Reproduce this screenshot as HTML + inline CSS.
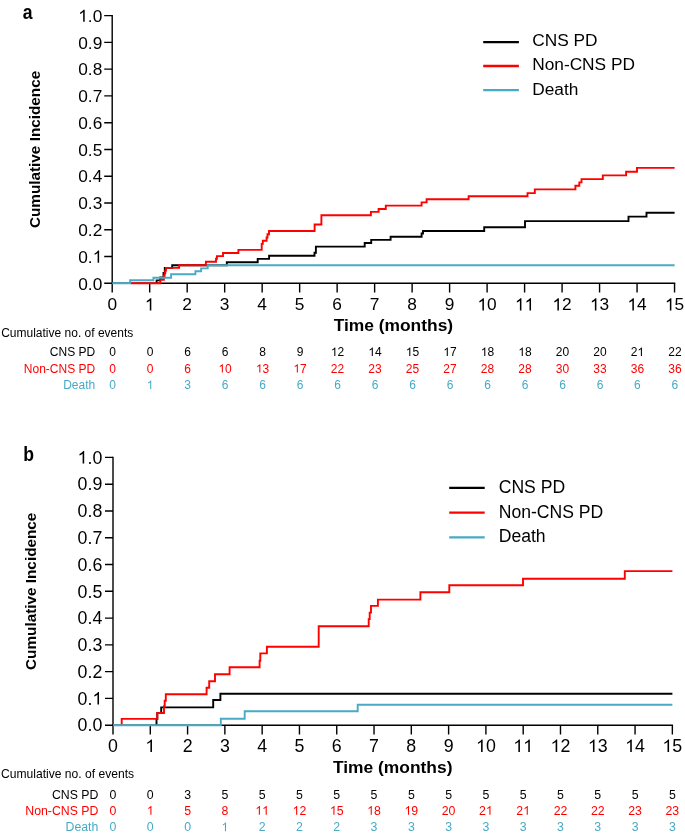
<!DOCTYPE html>
<html><head><meta charset="utf-8"><style>
html,body{margin:0;padding:0;background:#fff;}
svg{display:block;will-change:transform;}
text{font-family:"Liberation Sans", sans-serif;fill:#000;}
</style></head><body>
<svg width="685" height="836" viewBox="0 0 685 836">
<rect width="685" height="836" fill="#fff"/>
<path d="M112.2,15.6V283.3H674.55" fill="none" stroke="#000" stroke-width="1.4" stroke-linecap="square"/>
<path d="M104.2,283.3H112.2M104.2,256.53H112.2M104.2,229.76H112.2M104.2,202.99H112.2M104.2,176.22H112.2M104.2,149.45H112.2M104.2,122.68H112.2M104.2,95.91H112.2M104.2,69.14H112.2M104.2,42.37H112.2M104.2,15.6H112.2M112.2,283.3V292.5M149.69,283.3V292.5M187.18,283.3V292.5M224.67,283.3V292.5M262.16,283.3V292.5M299.65,283.3V292.5M337.14,283.3V292.5M374.63,283.3V292.5M412.12,283.3V292.5M449.61,283.3V292.5M487.1,283.3V292.5M524.59,283.3V292.5M562.08,283.3V292.5M599.57,283.3V292.5M637.06,283.3V292.5M674.55,283.3V292.5" fill="none" stroke="#000" stroke-width="1.4"/>
<text x="78.25" y="289.5" font-size="17.3">0.0</text>
<text x="78.25" y="262.73" font-size="17.3">0. </text>
<path d="M763,0H583V1147Q518,1085 412.5,1023Q307,961 223,930V1104Q374,1175 487,1276Q600,1377 647,1440H763Z" transform="translate(92.68,262.73) scale(0.008447,-0.008447)" fill="#000"/>
<text x="78.25" y="235.96" font-size="17.3">0.2</text>
<text x="78.25" y="209.19" font-size="17.3">0.3</text>
<text x="78.25" y="182.42" font-size="17.3">0.4</text>
<text x="78.25" y="155.65" font-size="17.3">0.5</text>
<text x="78.25" y="128.88" font-size="17.3">0.6</text>
<text x="78.25" y="102.11" font-size="17.3">0.7</text>
<text x="78.25" y="75.34" font-size="17.3">0.8</text>
<text x="78.25" y="48.57" font-size="17.3">0.9</text>
<text x="78.25" y="21.8" font-size="17.3"> .0</text>
<path d="M763,0H583V1147Q518,1085 412.5,1023Q307,961 223,930V1104Q374,1175 487,1276Q600,1377 647,1440H763Z" transform="translate(78.25,21.8) scale(0.008447,-0.008447)" fill="#000"/>
<text x="107.39" y="310.4" font-size="17.3">0</text>
<path d="M763,0H583V1147Q518,1085 412.5,1023Q307,961 223,930V1104Q374,1175 487,1276Q600,1377 647,1440H763Z" transform="translate(144.88,310.4) scale(0.008447,-0.008447)" fill="#000"/>
<text x="182.37" y="310.4" font-size="17.3">2</text>
<text x="219.86" y="310.4" font-size="17.3">3</text>
<text x="257.35" y="310.4" font-size="17.3">4</text>
<text x="294.84" y="310.4" font-size="17.3">5</text>
<text x="332.33" y="310.4" font-size="17.3">6</text>
<text x="369.82" y="310.4" font-size="17.3">7</text>
<text x="407.31" y="310.4" font-size="17.3">8</text>
<text x="444.8" y="310.4" font-size="17.3">9</text>
<text x="477.48" y="310.4" font-size="17.3"> 0</text>
<path d="M763,0H583V1147Q518,1085 412.5,1023Q307,961 223,930V1104Q374,1175 487,1276Q600,1377 647,1440H763Z" transform="translate(477.48,310.4) scale(0.008447,-0.008447)" fill="#000"/>
<path d="M763,0H583V1147Q518,1085 412.5,1023Q307,961 223,930V1104Q374,1175 487,1276Q600,1377 647,1440H763Z" transform="translate(514.97,310.4) scale(0.008447,-0.008447)" fill="#000"/>
<path d="M763,0H583V1147Q518,1085 412.5,1023Q307,961 223,930V1104Q374,1175 487,1276Q600,1377 647,1440H763Z" transform="translate(524.59,310.4) scale(0.008447,-0.008447)" fill="#000"/>
<text x="552.46" y="310.4" font-size="17.3"> 2</text>
<path d="M763,0H583V1147Q518,1085 412.5,1023Q307,961 223,930V1104Q374,1175 487,1276Q600,1377 647,1440H763Z" transform="translate(552.46,310.4) scale(0.008447,-0.008447)" fill="#000"/>
<text x="589.95" y="310.4" font-size="17.3"> 3</text>
<path d="M763,0H583V1147Q518,1085 412.5,1023Q307,961 223,930V1104Q374,1175 487,1276Q600,1377 647,1440H763Z" transform="translate(589.95,310.4) scale(0.008447,-0.008447)" fill="#000"/>
<text x="627.44" y="310.4" font-size="17.3"> 4</text>
<path d="M763,0H583V1147Q518,1085 412.5,1023Q307,961 223,930V1104Q374,1175 487,1276Q600,1377 647,1440H763Z" transform="translate(627.44,310.4) scale(0.008447,-0.008447)" fill="#000"/>
<text x="664.93" y="310.4" font-size="17.3"> 5</text>
<path d="M763,0H583V1147Q518,1085 412.5,1023Q307,961 223,930V1104Q374,1175 487,1276Q600,1377 647,1440H763Z" transform="translate(664.93,310.4) scale(0.008447,-0.008447)" fill="#000"/>
<text x="393.38" y="331" text-anchor="middle" font-size="17.4" font-weight="bold">Time (months)</text>
<text transform="translate(39.6,149.45) rotate(-90)" text-anchor="middle" font-size="15.3" font-weight="bold">Cumulative Incidence</text>
<text transform="translate(22.8,18.7) scale(0.84,1)" font-size="21" font-weight="bold">a</text>
<path d="M156.6,283.3V280.4H160.3V277.5H163.5V273H164.8V267.9H172.2V265.2H226.8V262.3H257.7V258.9H269.1V255.7H314.5V252.7H315.9V246.6H364.7V243H371.2V239.9H390.6V236.7H421.6V233.5H423V231H484.2V227.2H525V221.1H628.5V216.6H646.5V212.8H674.6" fill="none" stroke="#000000" stroke-width="1.9" stroke-linejoin="miter" stroke-linecap="butt"/>
<path d="M130.9,283.3H160.3V279.9H163.9V276H164.6V273.3H165.3V270.6H166V267.9H179.1V265.3H205.9V261.8H216V258.8H216.9V256.1H223V253H238.4V249.9H261.7V243.9H262.8V240.7H266.6V237.5H267.5V234.3H269V231H314.6V224.5H321.4V215.2H370.9V211.9H378.6V209H385.8V205.6H421.6V202.4H426.6V199.3H468.6V196.3H527.5V193.1H534.8V189.4H575.4V185.8H579.3V182.4H581.5V179.1H602.8V175.4H626.1V171.7H637V167.9H674.6" fill="none" stroke="#ff0000" stroke-width="1.9" stroke-linejoin="miter" stroke-linecap="butt"/>
<path d="M112.2,283.3H130.1V280.2H153.4V277.8H171.1V274.3H195.4V271.3H201.1V268.4H207.7V265.3H674.6" fill="none" stroke="#48aac5" stroke-width="1.9" stroke-linejoin="miter" stroke-linecap="butt"/>
<path d="M483.2,42.1H518.9" stroke="#000000" stroke-width="2.3"/>
<text x="532.2" y="46.4" font-size="17.3">CNS PD</text>
<path d="M483.2,66H518.9" stroke="#ff0000" stroke-width="2.3"/>
<text x="532.2" y="70.4" font-size="17.3">Non-CNS PD</text>
<path d="M483.2,90.1H518.9" stroke="#48aac5" stroke-width="2.3"/>
<text x="532.2" y="94.6" font-size="17.3">Death</text>
<text x="1.2" y="337.4" font-size="12">Cumulative no. of events</text>
<text x="95.2" y="355.9" font-size="12" style="fill:#000000" text-anchor="end">CNS PD</text>
<text x="109.26" y="355.9" font-size="12">0</text>
<text x="146.75" y="355.9" font-size="12">0</text>
<text x="184.24" y="355.9" font-size="12">6</text>
<text x="221.73" y="355.9" font-size="12">6</text>
<text x="259.22" y="355.9" font-size="12">8</text>
<text x="296.71" y="355.9" font-size="12">9</text>
<text x="330.87" y="355.9" font-size="12"> 2</text>
<path d="M763,0H583V1147Q518,1085 412.5,1023Q307,961 223,930V1104Q374,1175 487,1276Q600,1377 647,1440H763Z" transform="translate(330.87,355.9) scale(0.005859,-0.005859)" fill="#000000"/>
<text x="368.36" y="355.9" font-size="12"> 4</text>
<path d="M763,0H583V1147Q518,1085 412.5,1023Q307,961 223,930V1104Q374,1175 487,1276Q600,1377 647,1440H763Z" transform="translate(368.36,355.9) scale(0.005859,-0.005859)" fill="#000000"/>
<text x="405.85" y="355.9" font-size="12"> 5</text>
<path d="M763,0H583V1147Q518,1085 412.5,1023Q307,961 223,930V1104Q374,1175 487,1276Q600,1377 647,1440H763Z" transform="translate(405.85,355.9) scale(0.005859,-0.005859)" fill="#000000"/>
<text x="443.34" y="355.9" font-size="12"> 7</text>
<path d="M763,0H583V1147Q518,1085 412.5,1023Q307,961 223,930V1104Q374,1175 487,1276Q600,1377 647,1440H763Z" transform="translate(443.34,355.9) scale(0.005859,-0.005859)" fill="#000000"/>
<text x="480.83" y="355.9" font-size="12"> 8</text>
<path d="M763,0H583V1147Q518,1085 412.5,1023Q307,961 223,930V1104Q374,1175 487,1276Q600,1377 647,1440H763Z" transform="translate(480.83,355.9) scale(0.005859,-0.005859)" fill="#000000"/>
<text x="518.32" y="355.9" font-size="12"> 8</text>
<path d="M763,0H583V1147Q518,1085 412.5,1023Q307,961 223,930V1104Q374,1175 487,1276Q600,1377 647,1440H763Z" transform="translate(518.32,355.9) scale(0.005859,-0.005859)" fill="#000000"/>
<text x="555.81" y="355.9" font-size="12">20</text>
<text x="593.3" y="355.9" font-size="12">20</text>
<text x="630.79" y="355.9" font-size="12">2 </text>
<path d="M763,0H583V1147Q518,1085 412.5,1023Q307,961 223,930V1104Q374,1175 487,1276Q600,1377 647,1440H763Z" transform="translate(637.46,355.9) scale(0.005859,-0.005859)" fill="#000000"/>
<text x="668.28" y="355.9" font-size="12">22</text>
<text x="95.2" y="372.6" font-size="12" style="fill:#ff0000" text-anchor="end">Non-CNS PD</text>
<text x="109.26" y="372.6" font-size="12" style="fill:#ff0000">0</text>
<text x="146.75" y="372.6" font-size="12" style="fill:#ff0000">0</text>
<text x="184.24" y="372.6" font-size="12" style="fill:#ff0000">6</text>
<text x="218.4" y="372.6" font-size="12" style="fill:#ff0000"> 0</text>
<path d="M763,0H583V1147Q518,1085 412.5,1023Q307,961 223,930V1104Q374,1175 487,1276Q600,1377 647,1440H763Z" transform="translate(218.4,372.6) scale(0.005859,-0.005859)" fill="#ff0000"/>
<text x="255.89" y="372.6" font-size="12" style="fill:#ff0000"> 3</text>
<path d="M763,0H583V1147Q518,1085 412.5,1023Q307,961 223,930V1104Q374,1175 487,1276Q600,1377 647,1440H763Z" transform="translate(255.89,372.6) scale(0.005859,-0.005859)" fill="#ff0000"/>
<text x="293.38" y="372.6" font-size="12" style="fill:#ff0000"> 7</text>
<path d="M763,0H583V1147Q518,1085 412.5,1023Q307,961 223,930V1104Q374,1175 487,1276Q600,1377 647,1440H763Z" transform="translate(293.38,372.6) scale(0.005859,-0.005859)" fill="#ff0000"/>
<text x="330.87" y="372.6" font-size="12" style="fill:#ff0000">22</text>
<text x="368.36" y="372.6" font-size="12" style="fill:#ff0000">23</text>
<text x="405.85" y="372.6" font-size="12" style="fill:#ff0000">25</text>
<text x="443.34" y="372.6" font-size="12" style="fill:#ff0000">27</text>
<text x="480.83" y="372.6" font-size="12" style="fill:#ff0000">28</text>
<text x="518.32" y="372.6" font-size="12" style="fill:#ff0000">28</text>
<text x="555.81" y="372.6" font-size="12" style="fill:#ff0000">30</text>
<text x="593.3" y="372.6" font-size="12" style="fill:#ff0000">33</text>
<text x="630.79" y="372.6" font-size="12" style="fill:#ff0000">36</text>
<text x="668.28" y="372.6" font-size="12" style="fill:#ff0000">36</text>
<text x="95.2" y="388.9" font-size="12" style="fill:#48aac5" text-anchor="end">Death</text>
<text x="109.26" y="388.9" font-size="12" style="fill:#48aac5">0</text>
<path d="M763,0H583V1147Q518,1085 412.5,1023Q307,961 223,930V1104Q374,1175 487,1276Q600,1377 647,1440H763Z" transform="translate(146.75,388.9) scale(0.005859,-0.005859)" fill="#48aac5"/>
<text x="184.24" y="388.9" font-size="12" style="fill:#48aac5">3</text>
<text x="221.73" y="388.9" font-size="12" style="fill:#48aac5">6</text>
<text x="259.22" y="388.9" font-size="12" style="fill:#48aac5">6</text>
<text x="296.71" y="388.9" font-size="12" style="fill:#48aac5">6</text>
<text x="334.2" y="388.9" font-size="12" style="fill:#48aac5">6</text>
<text x="371.69" y="388.9" font-size="12" style="fill:#48aac5">6</text>
<text x="409.18" y="388.9" font-size="12" style="fill:#48aac5">6</text>
<text x="446.67" y="388.9" font-size="12" style="fill:#48aac5">6</text>
<text x="484.16" y="388.9" font-size="12" style="fill:#48aac5">6</text>
<text x="521.65" y="388.9" font-size="12" style="fill:#48aac5">6</text>
<text x="559.14" y="388.9" font-size="12" style="fill:#48aac5">6</text>
<text x="596.63" y="388.9" font-size="12" style="fill:#48aac5">6</text>
<text x="634.12" y="388.9" font-size="12" style="fill:#48aac5">6</text>
<text x="671.61" y="388.9" font-size="12" style="fill:#48aac5">6</text>
<path d="M113,457.4V725.2H672.35" fill="none" stroke="#000" stroke-width="1.4" stroke-linecap="square"/>
<path d="M105,725.2H113M105,698.42H113M105,671.64H113M105,644.86H113M105,618.08H113M105,591.3H113M105,564.52H113M105,537.74H113M105,510.96H113M105,484.18H113M105,457.4H113M113,725.2V734.4M150.29,725.2V734.4M187.58,725.2V734.4M224.87,725.2V734.4M262.16,725.2V734.4M299.45,725.2V734.4M336.74,725.2V734.4M374.03,725.2V734.4M411.32,725.2V734.4M448.61,725.2V734.4M485.9,725.2V734.4M523.19,725.2V734.4M560.48,725.2V734.4M597.77,725.2V734.4M635.06,725.2V734.4M672.35,725.2V734.4" fill="none" stroke="#000" stroke-width="1.4"/>
<text x="77.56" y="731.4" font-size="17.8">0.0</text>
<text x="77.56" y="704.62" font-size="17.8">0. </text>
<path d="M763,0H583V1147Q518,1085 412.5,1023Q307,961 223,930V1104Q374,1175 487,1276Q600,1377 647,1440H763Z" transform="translate(92.4,704.62) scale(0.008691,-0.008691)" fill="#000"/>
<text x="77.56" y="677.84" font-size="17.8">0.2</text>
<text x="77.56" y="651.06" font-size="17.8">0.3</text>
<text x="77.56" y="624.28" font-size="17.8">0.4</text>
<text x="77.56" y="597.5" font-size="17.8">0.5</text>
<text x="77.56" y="570.72" font-size="17.8">0.6</text>
<text x="77.56" y="543.94" font-size="17.8">0.7</text>
<text x="77.56" y="517.16" font-size="17.8">0.8</text>
<text x="77.56" y="490.38" font-size="17.8">0.9</text>
<text x="77.56" y="463.6" font-size="17.8"> .0</text>
<path d="M763,0H583V1147Q518,1085 412.5,1023Q307,961 223,930V1104Q374,1175 487,1276Q600,1377 647,1440H763Z" transform="translate(77.56,463.6) scale(0.008691,-0.008691)" fill="#000"/>
<text x="108.05" y="752" font-size="17.8">0</text>
<path d="M763,0H583V1147Q518,1085 412.5,1023Q307,961 223,930V1104Q374,1175 487,1276Q600,1377 647,1440H763Z" transform="translate(145.34,752) scale(0.008691,-0.008691)" fill="#000"/>
<text x="182.63" y="752" font-size="17.8">2</text>
<text x="219.92" y="752" font-size="17.8">3</text>
<text x="257.21" y="752" font-size="17.8">4</text>
<text x="294.5" y="752" font-size="17.8">5</text>
<text x="331.79" y="752" font-size="17.8">6</text>
<text x="369.08" y="752" font-size="17.8">7</text>
<text x="406.37" y="752" font-size="17.8">8</text>
<text x="443.66" y="752" font-size="17.8">9</text>
<text x="476" y="752" font-size="17.8"> 0</text>
<path d="M763,0H583V1147Q518,1085 412.5,1023Q307,961 223,930V1104Q374,1175 487,1276Q600,1377 647,1440H763Z" transform="translate(476,752) scale(0.008691,-0.008691)" fill="#000"/>
<path d="M763,0H583V1147Q518,1085 412.5,1023Q307,961 223,930V1104Q374,1175 487,1276Q600,1377 647,1440H763Z" transform="translate(513.29,752) scale(0.008691,-0.008691)" fill="#000"/>
<path d="M763,0H583V1147Q518,1085 412.5,1023Q307,961 223,930V1104Q374,1175 487,1276Q600,1377 647,1440H763Z" transform="translate(523.19,752) scale(0.008691,-0.008691)" fill="#000"/>
<text x="550.58" y="752" font-size="17.8"> 2</text>
<path d="M763,0H583V1147Q518,1085 412.5,1023Q307,961 223,930V1104Q374,1175 487,1276Q600,1377 647,1440H763Z" transform="translate(550.58,752) scale(0.008691,-0.008691)" fill="#000"/>
<text x="587.87" y="752" font-size="17.8"> 3</text>
<path d="M763,0H583V1147Q518,1085 412.5,1023Q307,961 223,930V1104Q374,1175 487,1276Q600,1377 647,1440H763Z" transform="translate(587.87,752) scale(0.008691,-0.008691)" fill="#000"/>
<text x="625.16" y="752" font-size="17.8"> 4</text>
<path d="M763,0H583V1147Q518,1085 412.5,1023Q307,961 223,930V1104Q374,1175 487,1276Q600,1377 647,1440H763Z" transform="translate(625.16,752) scale(0.008691,-0.008691)" fill="#000"/>
<text x="662.45" y="752" font-size="17.8"> 5</text>
<path d="M763,0H583V1147Q518,1085 412.5,1023Q307,961 223,930V1104Q374,1175 487,1276Q600,1377 647,1440H763Z" transform="translate(662.45,752) scale(0.008691,-0.008691)" fill="#000"/>
<text x="392.68" y="773.2" text-anchor="middle" font-size="17.4" font-weight="bold">Time (months)</text>
<text transform="translate(35.8,591.3) rotate(-90)" text-anchor="middle" font-size="15.3" font-weight="bold">Cumulative Incidence</text>
<text transform="translate(23.2,460.6) scale(0.84,1)" font-size="21" font-weight="bold">b</text>
<path d="M156.5,725.2V718.9H157.3V713H161.2V707.4H213.2V700H220.4V693.8H672.4" fill="none" stroke="#000000" stroke-width="1.9" stroke-linejoin="miter" stroke-linecap="butt"/>
<path d="M121.7,725.2V718.9H157.3V713H164V706.3H164.7V700.8H165.8V694.3H206.6V687.7H209.2V681.2H215V674.3H229.6V667.3H259.6V660.7H260.3V653.4H266.9V646.8H318.7V626.3H368.7V619.1H369.7V612.6H371V605.9H377.9V599.6H420.4V592.3H449.3V585.3H523V578.7H624.8V571.1H672.4" fill="none" stroke="#ff0000" stroke-width="1.9" stroke-linejoin="miter" stroke-linecap="butt"/>
<path d="M113,725.2H220.8V718.7H244.7V711.3H357.7V704.8H672.4" fill="none" stroke="#48aac5" stroke-width="1.9" stroke-linejoin="miter" stroke-linecap="butt"/>
<path d="M449.2,487.8H484.7" stroke="#000000" stroke-width="2.3"/>
<text x="498.7" y="493.2" font-size="17.6">CNS PD</text>
<path d="M449.2,512.7H484.7" stroke="#ff0000" stroke-width="2.3"/>
<text x="498.7" y="517.5" font-size="17.6">Non-CNS PD</text>
<path d="M449.2,537.3H484.7" stroke="#48aac5" stroke-width="2.3"/>
<text x="498.7" y="541.8" font-size="17.6">Death</text>
<text x="1" y="777.7" font-size="12.1">Cumulative no. of events</text>
<text x="98.4" y="798.8" font-size="12.3" style="fill:#000000" text-anchor="end">CNS PD</text>
<text x="109.58" y="798.8" font-size="12.3">0</text>
<text x="146.87" y="798.8" font-size="12.3">0</text>
<text x="184.16" y="798.8" font-size="12.3">3</text>
<text x="221.45" y="798.8" font-size="12.3">5</text>
<text x="258.74" y="798.8" font-size="12.3">5</text>
<text x="296.03" y="798.8" font-size="12.3">5</text>
<text x="333.32" y="798.8" font-size="12.3">5</text>
<text x="370.61" y="798.8" font-size="12.3">5</text>
<text x="407.9" y="798.8" font-size="12.3">5</text>
<text x="445.19" y="798.8" font-size="12.3">5</text>
<text x="482.48" y="798.8" font-size="12.3">5</text>
<text x="519.77" y="798.8" font-size="12.3">5</text>
<text x="557.06" y="798.8" font-size="12.3">5</text>
<text x="594.35" y="798.8" font-size="12.3">5</text>
<text x="631.64" y="798.8" font-size="12.3">5</text>
<text x="668.93" y="798.8" font-size="12.3">5</text>
<text x="98.4" y="814.7" font-size="12.3" style="fill:#ff0000" text-anchor="end">Non-CNS PD</text>
<text x="109.58" y="814.7" font-size="12.3" style="fill:#ff0000">0</text>
<path d="M763,0H583V1147Q518,1085 412.5,1023Q307,961 223,930V1104Q374,1175 487,1276Q600,1377 647,1440H763Z" transform="translate(146.87,814.7) scale(0.006006,-0.006006)" fill="#ff0000"/>
<text x="184.16" y="814.7" font-size="12.3" style="fill:#ff0000">5</text>
<text x="221.45" y="814.7" font-size="12.3" style="fill:#ff0000">8</text>
<path d="M763,0H583V1147Q518,1085 412.5,1023Q307,961 223,930V1104Q374,1175 487,1276Q600,1377 647,1440H763Z" transform="translate(255.32,814.7) scale(0.006006,-0.006006)" fill="#ff0000"/>
<path d="M763,0H583V1147Q518,1085 412.5,1023Q307,961 223,930V1104Q374,1175 487,1276Q600,1377 647,1440H763Z" transform="translate(262.16,814.7) scale(0.006006,-0.006006)" fill="#ff0000"/>
<text x="292.61" y="814.7" font-size="12.3" style="fill:#ff0000"> 2</text>
<path d="M763,0H583V1147Q518,1085 412.5,1023Q307,961 223,930V1104Q374,1175 487,1276Q600,1377 647,1440H763Z" transform="translate(292.61,814.7) scale(0.006006,-0.006006)" fill="#ff0000"/>
<text x="329.9" y="814.7" font-size="12.3" style="fill:#ff0000"> 5</text>
<path d="M763,0H583V1147Q518,1085 412.5,1023Q307,961 223,930V1104Q374,1175 487,1276Q600,1377 647,1440H763Z" transform="translate(329.9,814.7) scale(0.006006,-0.006006)" fill="#ff0000"/>
<text x="367.19" y="814.7" font-size="12.3" style="fill:#ff0000"> 8</text>
<path d="M763,0H583V1147Q518,1085 412.5,1023Q307,961 223,930V1104Q374,1175 487,1276Q600,1377 647,1440H763Z" transform="translate(367.19,814.7) scale(0.006006,-0.006006)" fill="#ff0000"/>
<text x="404.48" y="814.7" font-size="12.3" style="fill:#ff0000"> 9</text>
<path d="M763,0H583V1147Q518,1085 412.5,1023Q307,961 223,930V1104Q374,1175 487,1276Q600,1377 647,1440H763Z" transform="translate(404.48,814.7) scale(0.006006,-0.006006)" fill="#ff0000"/>
<text x="441.77" y="814.7" font-size="12.3" style="fill:#ff0000">20</text>
<text x="479.06" y="814.7" font-size="12.3" style="fill:#ff0000">2 </text>
<path d="M763,0H583V1147Q518,1085 412.5,1023Q307,961 223,930V1104Q374,1175 487,1276Q600,1377 647,1440H763Z" transform="translate(485.9,814.7) scale(0.006006,-0.006006)" fill="#ff0000"/>
<text x="516.35" y="814.7" font-size="12.3" style="fill:#ff0000">2 </text>
<path d="M763,0H583V1147Q518,1085 412.5,1023Q307,961 223,930V1104Q374,1175 487,1276Q600,1377 647,1440H763Z" transform="translate(523.19,814.7) scale(0.006006,-0.006006)" fill="#ff0000"/>
<text x="553.64" y="814.7" font-size="12.3" style="fill:#ff0000">22</text>
<text x="590.93" y="814.7" font-size="12.3" style="fill:#ff0000">22</text>
<text x="628.22" y="814.7" font-size="12.3" style="fill:#ff0000">23</text>
<text x="665.51" y="814.7" font-size="12.3" style="fill:#ff0000">23</text>
<text x="98.4" y="831.2" font-size="12.3" style="fill:#48aac5" text-anchor="end">Death</text>
<text x="109.58" y="831.2" font-size="12.3" style="fill:#48aac5">0</text>
<text x="146.87" y="831.2" font-size="12.3" style="fill:#48aac5">0</text>
<text x="184.16" y="831.2" font-size="12.3" style="fill:#48aac5">0</text>
<path d="M763,0H583V1147Q518,1085 412.5,1023Q307,961 223,930V1104Q374,1175 487,1276Q600,1377 647,1440H763Z" transform="translate(221.45,831.2) scale(0.006006,-0.006006)" fill="#48aac5"/>
<text x="258.74" y="831.2" font-size="12.3" style="fill:#48aac5">2</text>
<text x="296.03" y="831.2" font-size="12.3" style="fill:#48aac5">2</text>
<text x="333.32" y="831.2" font-size="12.3" style="fill:#48aac5">2</text>
<text x="370.61" y="831.2" font-size="12.3" style="fill:#48aac5">3</text>
<text x="407.9" y="831.2" font-size="12.3" style="fill:#48aac5">3</text>
<text x="445.19" y="831.2" font-size="12.3" style="fill:#48aac5">3</text>
<text x="482.48" y="831.2" font-size="12.3" style="fill:#48aac5">3</text>
<text x="519.77" y="831.2" font-size="12.3" style="fill:#48aac5">3</text>
<text x="557.06" y="831.2" font-size="12.3" style="fill:#48aac5">3</text>
<text x="594.35" y="831.2" font-size="12.3" style="fill:#48aac5">3</text>
<text x="631.64" y="831.2" font-size="12.3" style="fill:#48aac5">3</text>
<text x="668.93" y="831.2" font-size="12.3" style="fill:#48aac5">3</text>
</svg>
</body></html>
